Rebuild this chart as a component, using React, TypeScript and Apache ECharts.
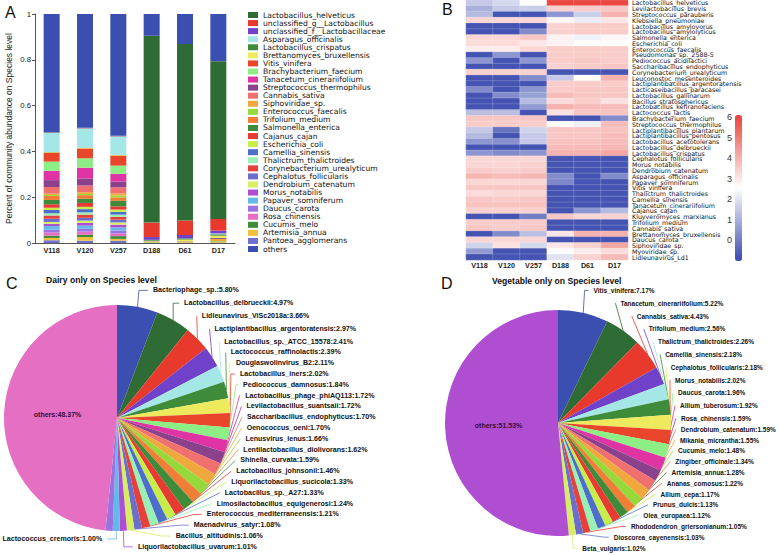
import React, { useEffect, useRef } from 'react';
import * as echarts from 'echarts';

const FONT = '"Liberation Sans", Arial, Helvetica, sans-serif';
const WIDE = '"DejaVu Sans", "Liberation Sans", Arial, sans-serif';

const palette = [
  '#3b4fb0', '#2f6b34', '#e83a2c', '#7041c9', '#a5e6e6', '#3e8b3a', '#eeea5e', '#e8452a',
  '#8dee85', '#e034a5', '#8b418b', '#f07070', '#f0a83e', '#96d93a', '#f07e36', '#3e8b3a',
  '#e73a33', '#c7ee48', '#4d6fcb', '#98f0b4', '#e6403a', '#6b6fcb', '#d6ee62', '#b04ed2',
  '#63b9ea', '#9b72e2', '#e46fc3', '#3e8b3a', '#f0c03e', '#7070d0',
];

// ---------- Panel A ----------
const samples = ['V118', 'V120', 'V257', 'D188', 'D61', 'D17'];
const speciesA = [
  'Lactobacillus_helveticus', 'unclassified_g__Lactobacillus', 'unclassified_f__Lactobacillaceae',
  'Asparagus_officinalis', 'Lactobacillus_crispatus', 'Brettanomyces_bruxellensis', 'Vitis_vinifera',
  'Brachybacterium_faecium', 'Tanacetum_cinerariifolium', 'Streptococcus_thermophilus', 'Cannabis_sativa',
  'Siphoviridae_sp.', 'Enterococcus_faecalis', 'Trifolium_medium', 'Salmonella_enterica', 'Cajanus_cajan',
  'Escherichia_coli', 'Camellia_sinensis', 'Thalictrum_thalictroides', 'Corynebacterium_urealyticum',
  'Cephalotus_follicularis', 'Dendrobium_catenatum', 'Morus_notabilis', 'Papaver_somniferum',
  'Daucus_carota', 'Rosa_chinensis', 'Cucumis_melo', 'Artemisia_annua', 'Pantoea_agglomerans', 'others',
];
const abV118 = [0.001, 0.001, 0.001, 0.083, 0.001, 0.002, 0.039, 0.040, 0.041, 0.030, 0.029, 0.006, 0.004, 0.0175, 0.019, 0.015, 0.010, 0.014, 0.010, 0.014, 0.014, 0.008, 0.010, 0.016, 0.012, 0.014, 0.010, 0.010, 0.012, 0.517];
const abV120 = [0.001, 0.001, 0.001, 0.084, 0.001, 0.002, 0.043, 0.041, 0.047, 0.031, 0.029, 0.008, 0.005, 0.016, 0.018, 0.017, 0.010, 0.014, 0.010, 0.014, 0.012, 0.010, 0.012, 0.014, 0.012, 0.014, 0.010, 0.016, 0.010, 0.497];
const abV257 = [0.001, 0.001, 0.001, 0.080, 0.001, 0.002, 0.044, 0.036, 0.034, 0.025, 0.026, 0.010, 0.008, 0.015, 0.024, 0.014, 0.010, 0.012, 0.010, 0.012, 0.012, 0.010, 0.012, 0.014, 0.012, 0.012, 0.012, 0.008, 0.010, 0.532];
const abD188 = [0.816, 0.063, 0.012, 0, 0.004, 0.003, 0, 0, 0, 0.002, 0, 0.002, 0.001, 0, 0.001, 0, 0.001, 0, 0, 0, 0, 0, 0, 0, 0, 0, 0, 0, 0, 0.095];
const abD61 = [0.771, 0.063, 0.015, 0, 0.005, 0.008, 0, 0, 0, 0.002, 0, 0.003, 0.001, 0, 0.001, 0, 0, 0, 0, 0, 0, 0, 0, 0, 0, 0, 0, 0, 0, 0.131];
const abD17 = [0.689, 0.051, 0.012, 0.004, 0.006, 0.010, 0, 0, 0, 0.004, 0, 0.010, 0.002, 0, 0.002, 0, 0.002, 0, 0, 0.002, 0, 0, 0, 0, 0, 0, 0, 0, 0, 0.206];
const abundance = [abV118, abV120, abV257, abD188, abD61, abD17];
const yTicksA = [0, 0.2, 0.4, 0.6, 0.8, 1];

// ---------- Panel B ----------
const heatRows = [
  'Lactobacillus_helveticus', 'Levilactobacillus_brevis', 'Streptococcus_parauberis', 'Klebsiella_pneumoniae',
  'Lactobacillus_amylovorus', 'Lactobacillus_amylolyticus', 'Salmonella_enterica', 'Escherichia_coli',
  'Enterococcus_faecalis', 'Pseudomonas_sp._2588-5', 'Pediococcus_acidilactici', 'Saccharibacillus_endophyticus',
  'Corynebacterium_urealyticum', 'Leuconostoc_mesenteroides', 'Lactiplantibacillus_argentoratensis',
  'Lacticaseibacillus_paracasei', 'Lactobacillus_gallinarum', 'Bacillus_stratosphericus',
  'Lactobacillus_kefiranofaciens', 'Lactococcus_lactis', 'Brachybacterium_faecium', 'Streptococcus_thermophilus',
  'Lactiplantibacillus_plantarum', 'Lactiplantibacillus_pentosus', 'Lactobacillus_acetotolerans',
  'Lactobacillus_delbrueckii', 'Lactobacillus_crispatus', 'Cephalotus_follicularis', 'Morus_notabilis',
  'Dendrobium_catenatum', 'Asparagus_officinalis', 'Papaver_somniferum', 'Vitis_vinifera',
  'Thalictrum_thalictroides', 'Camellia_sinensis', 'Tanacetum_cinerariifolium', 'Cajanus_cajan',
  'Kluyveromyces_marxianus', 'Trifolium_medium', 'Cannabis_sativa', 'Brettanomyces_bruxellensis',
  'Daucus_carota', 'Siphoviridae_sp.', 'Myoviridae_sp.', 'Lidleunavirus_Ld1',
];
const hV118 = [1.5, 1.0, 1.2, 3.3, -0.8, -0.8, 3.3, 3.2, 2.9, -0.8, 0.5, -0.8, 3.4, -0.8, -0.8, 0.3, -0.8, -0.8, -0.8, 1.3, 3.6, 3.5, 1.5, 1.2, 0.5, -0.8, 0.5, 3.3, 3.3, 3.5, 3.9, 3.3, 3.6, 3.2, 3.6, 3.7, 3.4, -0.8, 3.5, 3.6, -0.8, 3.3, 1.7, 0.6, -0.8];
const hV120 = [1.8, 1.5, -0.8, 3.3, -0.8, -0.8, 3.3, 3.2, 2.9, 0.5, -0.8, -0.8, 3.4, -0.8, -0.8, -0.8, 0.3, -0.8, -0.8, 1.3, 3.6, 3.5, -0.2, -0.8, 0.4, -0.8, 0.3, 3.3, 3.3, 3.4, 3.8, 3.3, 3.6, 3.3, 3.5, 3.7, 3.4, -0.8, 3.5, 3.5, 0.3, 3.3, 3.1, -0.8, -0.8];
const hV257 = [2.6, 1.6, -0.8, 3.3, -0.8, 0.3, 3.6, 3.0, 3.3, -0.8, 0.5, -0.8, 3.4, 0.3, -0.8, 0.5, 0.7, 1.2, 0.6, -0.8, 3.6, 3.5, 1.7, 1.5, 1.5, -0.8, 0.5, 3.3, 3.4, 3.5, 3.9, 3.3, 3.6, 3.3, 3.6, 3.7, 3.4, 0.0, 3.5, 3.6, 1.3, 3.3, 1.8, -0.8, -0.8];
const hD188 = [6.0, 3.4, 0.5, 2.7, 3.4, 3.4, 2.8, 2.8, 3.5, 3.5, 3.5, 3.4, -0.8, 1.5, 3.5, 3.5, 3.8, 3.2, 4.0, 3.1, -0.8, 2.6, 3.6, 3.6, 3.7, 3.8, 4.0, -0.8, -0.8, -0.8, 0.3, 0.2, -0.8, -0.8, -0.8, -0.8, -0.8, 3.6, -0.8, -0.8, 3.0, -0.8, 3.0, 2.5, 2.0];
const hD61 = [6.0, 3.5, 1.6, 2.2, 3.5, 3.5, 2.3, 2.6, 3.5, 3.5, 3.6, 3.5, -0.8, 2.6, 3.5, 3.6, 3.6, 3.5, 3.8, 3.6, -0.8, 2.3, 3.6, 3.6, 3.7, 3.8, 4.0, -0.8, -0.8, -0.8, -0.8, -0.8, -0.8, -0.8, -0.8, -0.8, 0.5, 3.3, -0.8, -0.8, 4.0, -0.8, 3.4, 2.9, 3.4];
const hD17 = [6.0, 3.6, 4.0, 3.0, 3.5, 3.5, 2.7, 2.6, 3.5, 3.5, 3.5, 3.6, -0.8, 4.0, 3.5, 3.6, 3.6, 3.1, 3.8, 3.7, 0.3, 3.8, 3.7, 3.8, 3.8, 3.9, 4.2, -0.8, -0.8, -0.8, 0.3, -0.8, -0.8, -0.8, -0.8, -0.8, 1.2, 3.4, -0.8, -0.8, 4.0, -0.8, 4.2, 3.2, 3.8];
const heatColumns = [hV118, hV120, hV257, hD188, hD61, hD17];
const heatScale = [-1, 6.1];

// ---------- Panel C ----------
const dairyNames = [
  'Bacteriophage_sp.', 'Lactobacillus_delbrueckii', 'Lidleunavirus_ViSc2018a', 'Lactiplantibacillus_argentoratensis',
  'Lactobacillus_sp._ATCC_15578', 'Lactococcus_raffinolactis', 'Douglaswolinvirus_B2', 'Lactobacillus_iners',
  'Pediococcus_damnosus', 'Lactobacillus_phage_phiAQ113', 'Levilactobacillus_suantsaii', 'Saccharibacillus_endophyticus',
  'Oenococcus_oeni', 'Lenusvirus_lenus', 'Lentilactobacillus_diolivorans', 'Shinella_curvata', 'Lactobacillus_johnsonii',
  'Liquorilactobacillus_sucicola', 'Lactobacillus_sp._A27', 'Limosilactobacillus_equigenerosi',
  'Enterococcus_mediterraneensis', 'Maenadvirus_satyr', 'Bacillus_altitudinis', 'Liquorilactobacillus_uvarum',
  'Lactococcus_cremoris', 'unlabeled', 'others',
];
const dairyValues = [5.80, 4.97, 3.66, 2.97, 2.41, 2.39, 2.11, 2.02, 1.84, 1.72, 1.72, 1.70, 1.70, 1.66, 1.62, 1.59, 1.46, 1.33, 1.33, 1.24, 1.21, 1.08, 1.06, 1.01, 1.00, 1.03, 48.37];

// ---------- Panel D ----------
const vegNames = [
  'Vitis_vinifera', 'Tanacetum_cinerariifolium', 'Cannabis_sativa', 'Trifolium_medium', 'Thalictrum_thalictroides',
  'Camellia_sinensis', 'Cephalotus_follicularis', 'Morus_notabilis', 'Daucus_carota', 'Allium_tuberosum',
  'Rosa_chinensis', 'Dendrobium_catenatum', 'Mikania_micrantha', 'Cucumis_melo', 'Zingiber_officinale',
  'Artemisia_annua', 'Ananas_comosus', 'Allium_cepa', 'Prunus_dulcis', 'Olea_europaea',
  'Rhododendron_griersonianum', 'Dioscorea_cayenensis', 'Beta_vulgaris', 'others',
];
const vegValues = [7.17, 5.22, 4.43, 2.56, 2.26, 2.18, 2.18, 2.02, 1.96, 1.92, 1.59, 1.59, 1.55, 1.48, 1.34, 1.28, 1.22, 1.17, 1.13, 1.12, 1.05, 1.03, 1.02, 51.53];

function pieData(names: string[], values: number[]) {
  return names.map((n, i) => {
    const item: any = { name: n, value: values[i], itemStyle: { color: palette[i % palette.length] } };
    if (n === 'others') {
      item.label = { position: 'inside', fontSize: 7, fontWeight: 'bold', color: '#3a0a3a', lineHeight: 9 };
    }
    if (n === 'unlabeled') {
      item.label = { show: false };
      item.labelLine = { show: false };
    }
    return item;
  });
}

const PIE_TOP = 284;

function pieSeries(center: number[], names: string[], values: number[], fontSize: number, len1: number, len2: number) {
  return {
    type: 'pie',
    left: 0,
    top: PIE_TOP,
    width: 778,
    height: 555 - PIE_TOP,
    center: [center[0], center[1] - PIE_TOP],
    radius: [0, 113],
    startAngle: 90,
    clockwise: true,
    avoidLabelOverlap: true,
    data: pieData(names, values),
    label: {
      show: true,
      position: 'outside',
      formatter: (p: any) => `${p.name}:${Number(p.value).toFixed(2)}%`,
      fontSize,
      fontWeight: 'bold',
      fontFamily: FONT,
      color: '#111',
      lineHeight: 10.8,
      overflow: 'none',
    },
    labelLine: { show: true, length: len1, length2: len2, lineStyle: { width: 0.8 } },
    itemStyle: { borderWidth: 0 },
    emphasis: { disabled: true },
  };
}

export default function App() {
  const ref = useRef<HTMLDivElement>(null);
  useEffect(() => {
    if (!ref.current) return;
    const chart = echarts.init(ref.current, undefined, { renderer: 'svg' });

    const stackOrder = [...speciesA.slice(0, 29).map((_, i) => 28 - i), 29];
    const barSeries = stackOrder.map((k) => ({
      type: 'bar',
      name: speciesA[k],
      stack: 'abund',
      xAxisIndex: 0,
      yAxisIndex: 0,
      barWidth: 16,
      itemStyle: { color: palette[(k + 1) % palette.length] },
      emphasis: { disabled: true },
      data: abundance.map((col) => col[k]),
    }));

    const heatData: number[][] = [];
    heatColumns.forEach((col, ci) => col.forEach((v, ri) => heatData.push([ci, ri, v])));

    const letter = (text: string, left: number, top: number) => ({
      text, left, top, padding: 0,
      textStyle: { fontSize: 16, fontWeight: 'normal', color: '#111', fontFamily: FONT },
    });

    const option: any = {
      animation: false,
      backgroundColor: '#fff',
      textStyle: { fontFamily: FONT },
      title: [
        letter('A', 5, 4),
        letter('B', 442, 1),
        letter('C', 6, 275),
        letter('D', 441, 275),
        { text: 'Dairy only on Species level', left: 46, top: 275, padding: 0, textStyle: { fontSize: 8.6, fontWeight: 'bold', color: '#111', fontFamily: FONT } },
        { text: 'Vegetable only on Species level', left: 492, top: 276, padding: 0, textStyle: { fontSize: 8.6, fontWeight: 'bold', color: '#111', fontFamily: FONT } },
      ],
      legend: {
        data: speciesA,
        orient: 'vertical',
        left: 248,
        top: 11,
        padding: 0,
        itemWidth: 10,
        itemHeight: 6,
        itemGap: 0.07,
        icon: 'rect',
        selectedMode: false,
        textStyle: { fontSize: 7.6, lineHeight: 8, color: '#111', fontFamily: WIDE },
      },
      grid: [
        { left: 35, top: 14, width: 200, height: 229 },
        { left: 466, top: 0, width: 162, height: 260 },
        { left: 735, top: 115, width: 7, height: 146 },
      ],
      xAxis: [
        {
          gridIndex: 0, type: 'category', data: samples,
          axisLine: { lineStyle: { color: '#555' } },
          axisTick: { length: 3, lineStyle: { color: '#555' } },
          axisLabel: { fontSize: 7.2, fontWeight: 'bold', color: '#222', margin: 4 },
        },
        {
          gridIndex: 1, type: 'category', data: samples,
          axisLine: { show: false }, axisTick: { show: false },
          axisLabel: { fontSize: 7.2, fontWeight: 'bold', color: '#222', margin: 2 },
        },
        { gridIndex: 2, type: 'value', show: false, min: 0, max: 1 },
      ],
      yAxis: [
        {
          gridIndex: 0, type: 'value', min: yTicksA[0], max: yTicksA[yTicksA.length - 1], interval: 0.2,
          name: 'Percent of community abundance on Species level', nameLocation: 'middle', nameGap: 22,
          nameTextStyle: { fontSize: 8.5, color: '#222', fontFamily: FONT },
          axisLine: { show: true, lineStyle: { color: '#555' } },
          axisTick: { show: true, length: 3, lineStyle: { color: '#555' } },
          splitLine: { show: false },
          axisLabel: { fontSize: 7.8, color: '#222', margin: 4 },
        },
        {
          gridIndex: 1, type: 'category', data: heatRows, inverse: true, position: 'right',
          axisLine: { show: false }, axisTick: { show: false },
          axisLabel: { fontSize: 6.3, lineHeight: 5.7, color: '#111', margin: 4, interval: 0, fontFamily: WIDE },
        },
        {
          gridIndex: 2, type: 'value', min: heatScale[0], max: heatScale[1], interval: 1, position: 'left',
          axisLine: { show: false }, axisTick: { show: false }, splitLine: { show: false },
          axisLabel: {
            fontSize: 9, color: '#333', margin: 3,
            formatter: (v: number) => (v >= 0 && Math.abs(v - Math.round(v)) < 1e-6 ? String(Math.round(v)) : ''),
          },
        },
      ],
      visualMap: {
        type: 'continuous',
        min: heatScale[0],
        max: heatScale[1],
        seriesIndex: 30,
        calculable: false,
        show: true,
        left: 735,
        top: 115,
        padding: 0,
        itemWidth: 7,
        itemHeight: 146,
        inRange: { color: ['#3a4aad', '#ffffff', '#e8423a'] },
      },
      series: [
        ...barSeries,
        {
          type: 'heatmap', xAxisIndex: 1, yAxisIndex: 1, data: heatData,
          itemStyle: { borderColor: 'rgba(255,255,255,0.35)', borderWidth: 0.5 },
          emphasis: { disabled: true },
        },
        pieSeries([117, 418], dairyNames, dairyValues, 7.1, 8, 9),
        pieSeries([558, 423], vegNames, vegValues, 6.5, 6, 4),
      ],
    };
    chart.setOption(option);
    return () => chart.dispose();
  }, []);
  return (
    <div
      ref={ref}
      style={{ position: 'fixed', left: 0, top: 0, width: 778, height: 555, background: '#fff' }}
    />
  );
}
